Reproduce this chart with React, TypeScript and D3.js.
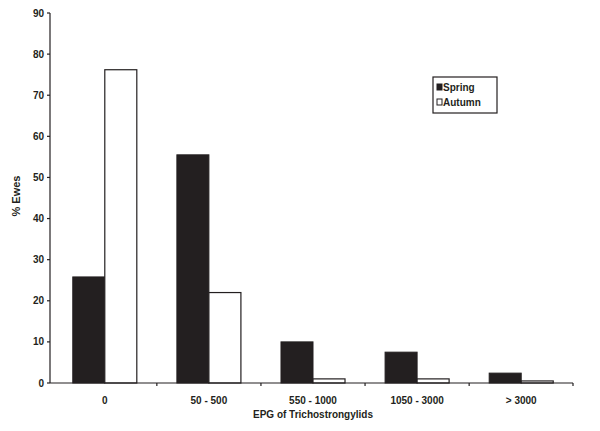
import React from "react";
import * as d3 from "d3";

const categories = ["0", "50 - 500", "550 - 1000", "1050 - 3000", "> 3000"];
const spring = [25.8, 55.5, 10, 7.5, 2.4];
const autumn = [76.2, 22, 1, 1, 0.5];
const yTicks = [0, 10, 20, 30, 40, 50, 60, 70, 80, 90];
const seriesNames = ["Spring", "Autumn"];

export default function App() {
  const W = 600, H = 431;
  const left = 53, right = 573, top = 13, bottom = 383;
  const x = d3.scaleBand().domain(categories).range([left, right]).paddingInner(0.385).paddingOuter(0.19);
  const y = d3.scaleLinear().domain([0, 90]).range([bottom, top]);
  const inner = d3.scaleBand().domain(seriesNames).range([0, x.bandwidth()]);
  const font = "Arial, 'Liberation Sans', sans-serif";
  const ink = "#231f20";
  const tickXs = categories.map((c) => (x(c) as number) + x.bandwidth() + (x.step() * 0.385) / 2);
  return (
    <svg width={W} height={H} style={{ position: "absolute", left: 0, top: 0 }} fontFamily={font}>
      <rect width={W} height={H} fill="#fff" />
      {categories.map((c, i) => (
        <g key={c}>
          <rect x={(x(c) as number) + (inner("Spring") as number)} y={y(spring[i])} width={inner.bandwidth()} height={bottom - y(spring[i])} fill={ink} stroke={ink} strokeWidth={1} />
          <rect x={(x(c) as number) + (inner("Autumn") as number)} y={y(autumn[i])} width={inner.bandwidth()} height={bottom - y(autumn[i])} fill="#fff" stroke={ink} strokeWidth={1.2} />
        </g>
      ))}
      <line x1={left - 3} x2={left - 3} y1={top} y2={bottom} stroke={ink} strokeWidth={1.2} />
      <line x1={left - 3} x2={right} y1={bottom} y2={bottom} stroke={ink} strokeWidth={1.2} />
      {yTicks.map((t) => (
        <g key={t}>
          <line x1={left - 6} x2={left - 3} y1={y(t)} y2={y(t)} stroke={ink} strokeWidth={1.2} />
          <text x={left - 9} y={y(t)} dy="0.35em" textAnchor="end" fontSize={10} fontWeight="bold" fill={ink}>{t}</text>
        </g>
      ))}
      {tickXs.map((tx, i) => (
        <line key={i} x1={Math.min(tx, right)} x2={Math.min(tx, right)} y1={bottom} y2={bottom + 3} stroke={ink} strokeWidth={1.2} />
      ))}
      {categories.map((c) => (
        <text key={c} x={(x(c) as number) + x.bandwidth() / 2} y={400} dy="0.35em" textAnchor="middle" fontSize={10} fontWeight="bold" fill={ink}>{c}</text>
      ))}
      <text x={313} y={414} dy="0.35em" textAnchor="middle" fontSize={10} fontWeight="bold" fill={ink}>EPG of Trichostrongylids</text>
      <text transform={`translate(16,196) rotate(-90)`} textAnchor="middle" dy="0.35em" fontSize={11} fontWeight="bold" fill={ink}>% Ewes</text>
      <g>
        <rect x={433} y={77} width={64} height={36} fill="#fff" stroke={ink} strokeWidth={1.2} />
        <rect x={437} y={84} width={5} height={6} fill={ink} stroke={ink} />
        <text x={443} y={87} dy="0.35em" fontSize={10} fontWeight="bold" fill={ink}>Spring</text>
        <rect x={437} y={99} width={5} height={6} fill="#fff" stroke={ink} />
        <text x={443} y={102} dy="0.35em" fontSize={10} fontWeight="bold" fill={ink}>Autumn</text>
      </g>
    </svg>
  );
}
